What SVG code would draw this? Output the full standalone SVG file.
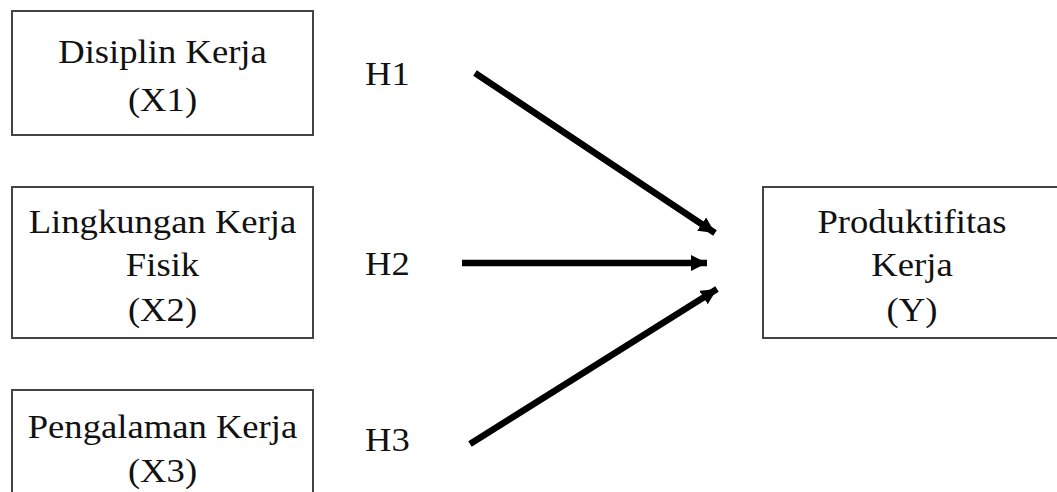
<svg xmlns="http://www.w3.org/2000/svg" width="1057" height="492" viewBox="0 0 1057 492">
<style>
.box{fill:#fff;stroke:#444;stroke-width:2}
.t{font-family:"Liberation Serif","Times New Roman",serif;font-size:33px;fill:#111;text-anchor:middle}
.h{font-family:"Liberation Serif","Times New Roman",serif;font-size:33px;fill:#111}
.c{stroke:#000;stroke-width:6.5;fill:none;marker-end:url(#ah)}
</style>
<defs>
<marker id="ah" markerUnits="userSpaceOnUse" markerWidth="20" markerHeight="20" refX="16" refY="8" orient="auto">
<path d="M0,0 L16,8 L0,16 Z" fill="#000"/>
</marker>
</defs>
<rect width="1057" height="492" fill="#fff"/>
<g id="x1">
<rect class="box" x="12" y="11" width="301" height="124"/>
<g transform="translate(162.5 0) scale(1.11 1)">
<text class="t" x="0" y="63">Disiplin Kerja</text>
<text class="t" x="0" y="111">(X1)</text>
</g>
</g>
<g id="x2">
<rect class="box" x="12" y="187" width="301" height="151"/>
<g transform="translate(162.5 0) scale(1.11 1)">
<text class="t" x="0" y="233">Lingkungan Kerja</text>
<text class="t" x="0" y="276">Fisik</text>
<text class="t" x="0" y="321">(X2)</text>
</g>
</g>
<g id="x3">
<rect class="box" x="12" y="390" width="301" height="120"/>
<g transform="translate(162.5 0) scale(1.11 1)">
<text class="t" x="0" y="438">Pengalaman Kerja</text>
<text class="t" x="0" y="482">(X3)</text>
</g>
</g>
<g id="y">
<rect class="box" x="763" y="187" width="310" height="151"/>
<g transform="translate(912 0) scale(1.11 1)">
<text class="t" x="0" y="233">Produktifitas</text>
<text class="t" x="0" y="276">Kerja</text>
<text class="t" x="0" y="321">(Y)</text>
</g>
</g>
<g id="labels">
<text class="h" transform="translate(365 85) scale(1.11 1)">H1</text>
<text class="h" transform="translate(365 275) scale(1.11 1)">H2</text>
<text class="h" transform="translate(365 451) scale(1.11 1)">H3</text>
</g>
<g id="connectors">
<line class="c" x1="475" y1="73" x2="715" y2="233"/>
<line class="c" x1="462" y1="263" x2="707" y2="263"/>
<line class="c" x1="470" y1="444" x2="717" y2="289"/>
</g>
</svg>
